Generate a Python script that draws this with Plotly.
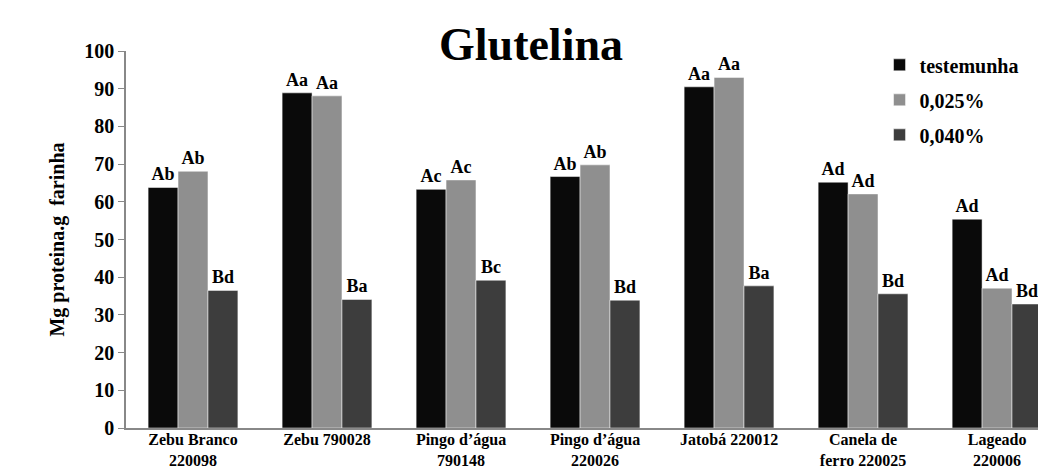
import plotly.graph_objects as go

categories = ["Zebu Branco<br>220098", "Zebu 790028", "Pingo d\u2019água<br>790148",
              "Pingo d\u2019água<br>220026", "Jatobá 220012", "Canela de<br>ferro 220025",
              "Lageado<br>220006"]
series_names = ["testemunha", "0,025%", "0,040%"]
testemunha = [63.8, 88.9, 63.3, 66.7, 90.5, 65.2, 55.4]
c025 = [68.1, 88.1, 65.8, 69.8, 93.0, 62.1, 37.1]
c040 = [36.5, 34.1, 39.2, 33.9, 37.7, 35.6, 32.9]
lab_test = ["Ab", "Aa", "Ac", "Ab", "Aa", "Ad", "Ad"]
lab_025 = ["Ab", "Aa", "Ac", "Ab", "Aa", "Ad", "Ad"]
lab_040 = ["Bd", "Ba", "Bc", "Bd", "Ba", "Bd", "Bd"]
colors = ["#0a0a0a", "#8f8f8f", "#3d3d3d"]

serif = "Liberation Serif"
fig = go.Figure()
for name, vals, labs, col in zip(series_names, [testemunha, c025, c040],
                                 [lab_test, lab_025, lab_040], colors):
    fig.add_trace(go.Bar(
        x=categories, y=vals, name="<b>" + name + "</b>", text=labs,
        legendgroup=name,
        texttemplate="<b>%{text}</b>",
        textposition="outside", constraintext="none", cliponaxis=False,
        outsidetextfont=dict(family=serif, size=18, color="black"),
        marker=dict(color=col, line=dict(color="white", width=0.5)),
    ))

fig.update_layout(
    width=1046, height=473,
    margin=dict(l=118, r=0, t=43, b=53),
    paper_bgcolor="white", plot_bgcolor="white",
    barmode="group", bargap=0.33, bargroupgap=0,
    title=dict(text="<b>Glutelina</b>", x=0.5, xanchor="center", y=0.925, yanchor="middle",
               font=dict(family=serif, size=46, color="black")),
    font=dict(family=serif, color="black"),
    legend=dict(x=0.812, y=1.015, xanchor="left", yanchor="top",
                font=dict(family=serif, size=20, color="black"),
                bgcolor="rgba(0,0,0,0)", itemwidth=30, tracegroupgap=6),
    showlegend=True,
)
fig.update_yaxes(range=[0, 100], dtick=10, showgrid=False, zeroline=False,
                 showline=True, linecolor="#888888", linewidth=1.5,
                 ticks="outside", ticklen=6, tickcolor="#888888",
                 tickfont=dict(family=serif, size=20, color="black"),
                 tickprefix="<b>", ticksuffix="</b>",
                 title=dict(text="<b>Mg proteina.g  farinha</b>",
                            font=dict(family=serif, size=20, color="black"), standoff=14))
fig.update_xaxes(range=[-0.5, 6.425], showgrid=False, showline=True,
                 linecolor="#888888", linewidth=1.5, ticks="",
                 tickfont=dict(family=serif, size=16, color="black"),
                 ticklabelstandoff=-4,
                 tickprefix="<b>", ticksuffix="</b>")

fig.write_html("out.html")
